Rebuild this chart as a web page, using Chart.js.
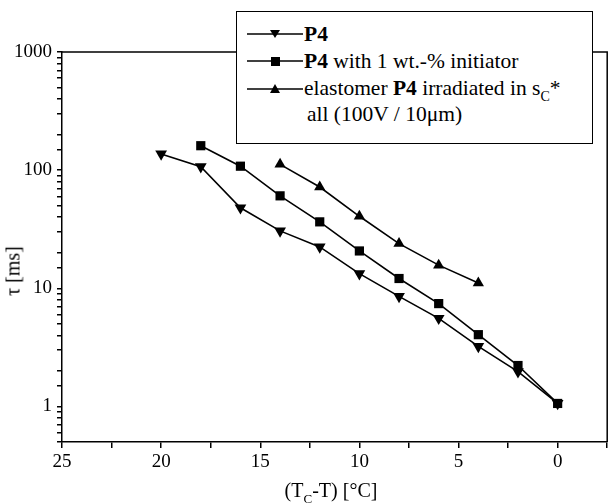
<!DOCTYPE html>
<html>
<head>
<meta charset="utf-8">
<script src="https://cdn.jsdelivr.net/npm/chart.js@4/dist/chart.umd.min.js"></script>
<style>
  html, body { margin: 0; padding: 0; background: #fff; }
  #wrap { position: relative; width: 614px; height: 503px; font-family: "Liberation Serif", "Times New Roman", serif; color: #000; }
  #chart { position: absolute; left: 0; top: 0; }
  #legend { position: absolute; left: 236px; top: 11px; width: 355px; height: 131px; border: 1px solid #000; background: #fff; font-size: 21.5px; }
  .row { position: absolute; left: 10px; height: 24px; line-height: 24px; white-space: nowrap; display: flex; align-items: center; }
  .row svg { flex: none; margin-right: 1px; }
  .sub { font-size: 14px; position: relative; top: 6px; }
  #ytitle { position: absolute; left: 13px; top: 271px; transform: translate(-50%, -50%) rotate(-90deg); font-size: 20px; white-space: nowrap; }
  #xtitle { position: absolute; left: 331px; top: 490px; transform: translate(-50%, -50%); font-size: 20px; white-space: nowrap; }
  #xtitle .sub { font-size: 13px; }
</style>
</head>
<body>
<div id="wrap">
  <canvas id="chart" width="614" height="503"></canvas>
  <div id="ytitle">τ [ms]</div>
  <div id="xtitle">(T<span class="sub">C</span>-T) [°C]</div>
  <div id="legend">
    <div class="row" style="top:10px">
      <svg width="56" height="14"><line x1="0" y1="7" x2="56" y2="7" stroke="#000" stroke-width="1.5"/><polygon points="23,3 33,3 28,11" fill="#000"/></svg>
      <b>P4</b>
    </div>
    <div class="row" style="top:37px">
      <svg width="56" height="14"><line x1="0" y1="7" x2="56" y2="7" stroke="#000" stroke-width="1.5"/><rect x="24" y="3" width="9" height="9" fill="#000"/></svg>
      <span><b>P4</b> with 1 wt.-% initiator</span>
    </div>
    <div class="row" style="top:65px">
      <svg width="56" height="14"><line x1="0" y1="7" x2="56" y2="7" stroke="#000" stroke-width="1.5"/><polygon points="28,2 33,11 23,11" fill="#000"/></svg>
      <span>elastomer <b>P4</b> irradiated in s<span class="sub">C</span>*</span>
    </div>
    <div class="row" style="top:90px; left:70px">all (100V / 10μm)</div>
  </div>
</div>
<script>
// ── data ──
const xP4      = [20, 18, 16, 14, 12, 10, 8, 6, 4, 2, 0];
const tauP4    = [137, 107, 48, 30.6, 22.4, 13.3, 8.55, 5.57, 3.22, 1.97, 1.06];
const xInit    = [18, 16, 14, 12, 10, 8, 6, 4, 2, 0];
const tauInit  = [161, 108, 60.6, 36.5, 20.7, 12.1, 7.42, 4.05, 2.22, 1.06];
const xElast   = [14, 12, 10, 8, 6, 4];
const tauElast = [112, 72, 40.7, 23.9, 15.7, 11.1];

const xLabels = [25, 20, 15, 10, 5, 0];
const yLabels = [1, 10, 100, 1000];

const FONT = '"Liberation Serif", "Times New Roman", serif';

function pts(xs, ys) {
  return xs.map((x, i) => ({ x, y: ys[i] }));
}

function series(xs, ys, style, rotation, radius, order) {
  return {
    data: pts(xs, ys),
    showLine: true,
    order,
    borderColor: '#000',
    borderWidth: 1.6,
    pointStyle: style,
    rotation,
    pointRadius: radius,
    pointBackgroundColor: '#000',
    pointBorderColor: '#000',
    pointBorderWidth: 0,
    clip: false
  };
}

// top + right frame lines
const frame = {
  id: 'frame',
  afterDraw(chart) {
    const { ctx, chartArea: a } = chart;
    ctx.save();
    ctx.strokeStyle = '#000';
    ctx.lineWidth = 1.5;
    ctx.beginPath();
    ctx.moveTo(a.left, a.top);
    ctx.lineTo(a.right, a.top);
    ctx.lineTo(a.right, a.bottom);
    ctx.stroke();
    ctx.restore();
  }
};

new Chart(document.getElementById('chart'), {
  type: 'scatter',
  data: {
    datasets: [
      series(xP4, tauP4, 'triangle', 180, 6.8, 0),
      series(xInit, tauInit, 'rect', 0, 6.5, 1),
      series(xElast, tauElast, 'triangle', 0, 6.5, 2)
    ]
  },
  plugins: [frame],
  options: {
    responsive: false,
    animation: false,
    layout: { padding: { top: 52, right: -2, left: 0, bottom: 0 } },
    plugins: { legend: { display: false }, tooltip: { enabled: false } },
    scales: {
      x: {
        type: 'linear',
        reverse: true,
        min: -2.5,
        max: 25,
        ticks: {
          stepSize: 2.5,
          autoSkip: false,
          maxRotation: 0,
          padding: 3,
          color: '#000',
          font: { family: FONT, size: 19 },
          callback: v => xLabels.includes(v) ? String(v) : ''
        },
        grid: { drawOnChartArea: false, drawTicks: true, tickLength: 6, color: '#000', lineWidth: 1.5 },
        border: { display: true, color: '#000', width: 1.5 },
        afterFit: s => { s.height = 61; }
      },
      y: {
        type: 'logarithmic',
        min: 0.5,
        max: 1000,
        ticks: {
          autoSkip: false,
          padding: 5,
          color: '#000',
          font: { family: FONT, size: 19 },
          callback: v => yLabels.some(t => Math.abs(t - v) < 1e-9 * t) ? String(Math.round(v)) : ''
        },
        grid: { drawOnChartArea: false, drawTicks: true, tickLength: 5, color: '#000', lineWidth: 1.5 },
        border: { display: true, color: '#000', width: 1.5 },
        afterFit: s => { s.width = 62; }
      }
    }
  }
});
</script>
</body>
</html>
